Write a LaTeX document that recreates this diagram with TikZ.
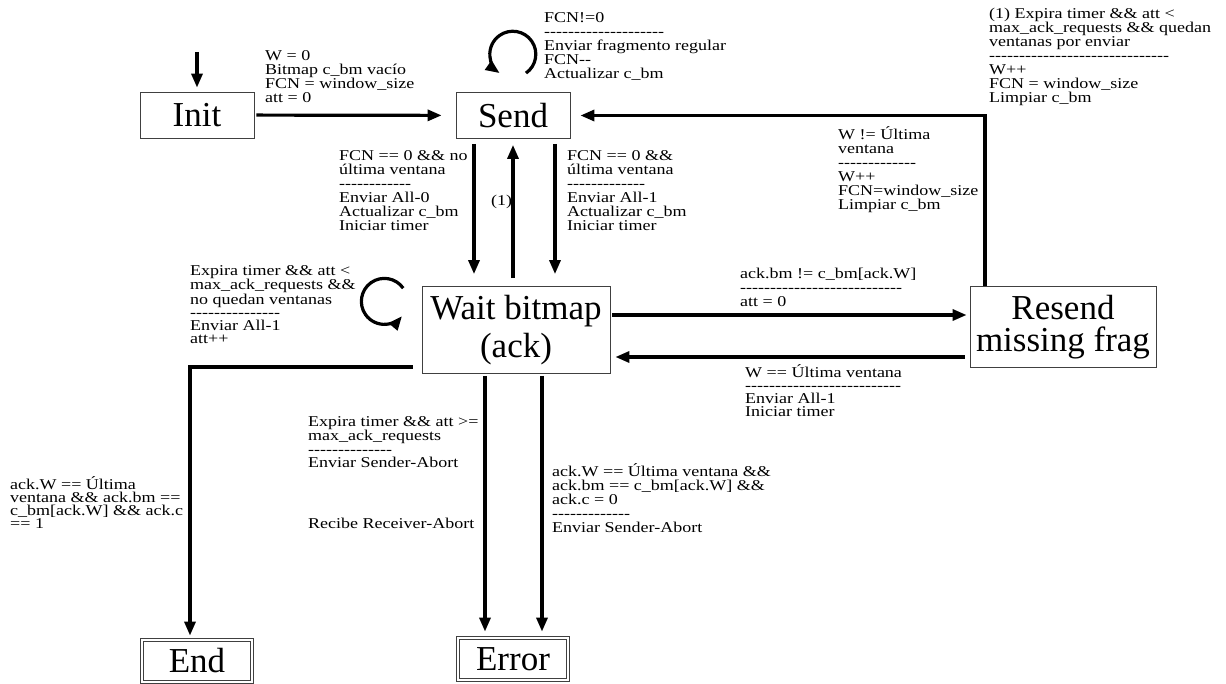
\documentclass[tikz,border=0pt]{standalone}
\usepackage{fontspec}
\usetikzlibrary{arrows.meta,calc}
\newfontfamily\lblfont{Liberation Serif}[FakeStretch=1.2]
\newfontfamily\statefont{Liberation Serif}
\newcommand{\dashrow}[1]{\foreach \k in {1,...,#1}{-}}

\begin{document}
\begin{tikzpicture}[x=1pt, y=1pt,
    state/.style={draw=black!75, line width=0.8pt, rectangle, inner sep=0pt,
      minimum width=114pt, minimum height=46pt, align=center,
      font=\statefont\fontsize{35}{37}\selectfont},
    final/.style={state, minimum width=110pt, minimum height=42pt,
      double, double distance=2.5pt},
    lbl/.style={anchor=north west, inner sep=0pt, align=left,
      font=\lblfont\fontsize{15}{14}\selectfont},
    arr/.style={line width=3.2pt, -{Triangle[length=14pt,width=11pt]},
      shorten >=4pt}]
    \useasboundingbox (0,0) rectangle (1226,-684);

    % states
    \node[state] (init) at (197,-115) {Init};
    \node[state] (send) at (513,-115.5) {Send};
    \node[state, minimum width=188pt, minimum height=87pt,
      font=\statefont\fontsize{35}{38}\selectfont] (wait) at (516,-330) {Wait bitmap\\(ack)};
    \node[state, minimum width=186pt, minimum height=81pt,
      font=\statefont\fontsize{35}{32}\selectfont] (resend) at (1063,-327) {Resend\\missing frag};
    \node[final] (end) at (197,-661) {End};
    \node[final] (error) at (513,-659) {Error};
    \coordinate (start) at (197,-52);

    % transitions
    \draw[arr] (start) -- (init);
    \draw[arr, shorten <=2pt, shorten >=14pt] (init) -- (send);
    \draw[arr, shorten >=0pt] ([shift={(13,19)}]send.north) arc[start angle=-55, end angle=235, radius=23];
    \draw[arr, shorten <=5pt, shorten >=12pt] ([xshift=-39pt]send.south) -- ([xshift=-39pt]send.south |- wait.north);
    \draw[arr, shorten <=8pt, shorten >=6pt] (wait.north -| send.south) -- (send.south);
    \draw[arr, shorten <=5pt, shorten >=12pt] ([xshift=42pt]send.south) -- ([xshift=42pt]send.south |- wait.north);
    \draw[arr, shorten >=0pt] ([shift={(-18.4,41.8)}]wait.west) arc[start angle=35, end angle=320, radius=23];
    \draw[arr, shorten <=2pt, shorten >=3pt] ([yshift=15pt]wait.east) -- ([yshift=15pt]wait.east -| resend.west);
    \draw[arr, shorten <=5pt, shorten >=5pt] ([yshift=-27pt]wait.east -| resend.west) -- ([yshift=-27pt]wait.east);
    \draw[arr, shorten >=10pt] ([xshift=-78pt]resend.north) |- (send.east);
    \draw[arr, shorten <=9pt] ([yshift=-37pt]wait.west) -| ([xshift=-7pt]end.north);
    \draw[arr, shorten <=2pt, shorten >=6pt] ([xshift=-28pt]error.north |- wait.south) -- ([xshift=-28pt]error.north);
    \draw[arr, shorten <=2pt, shorten >=6pt] ([xshift=29pt]error.north |- wait.south) -- ([xshift=29pt]error.north);

    % labels
    \node[lbl] (lblinit) at (265,-50) {W = 0\\Bitmap c\_bm vacío\\FCN = window\_size\\att = 0};
    \node[lbl] (lblsend) at (544,-12) {FCN!=0\\\dashrow{20}\\Enviar fragmento regular\\FCN-{}-\\Actualizar c\_bm};
    \node[lbl] (lblone) at (989,-8) {(1) Expira timer \&\& att <\\max\_ack\_requests \&\& quedan\\ventanas por enviar\\\dashrow{30}\\W++\\FCN = window\_size\\Limpiar c\_bm};
    \node[lbl] (lblnext) at (838,-126) {W != Última\\ventana\\\dashrow{13}\\W++\\FCN=window\_size\\Limpiar c\_bm};
    \node[lbl] (lblall0) at (339,-150) {FCN == 0 \&\& no\\última ventana\\\dashrow{12}\\Enviar All-0\\Actualizar c\_bm\\Iniciar timer};
    \node[lbl] (lblall1) at (567,-150) {FCN == 0 \&\&\\última ventana\\\dashrow{13}\\Enviar All-1\\Actualizar c\_bm\\Iniciar timer};
    \node[lbl] (lblback) at (491,-195) {(1)};
    \node[lbl, font=\lblfont\fontsize{15}{13}\selectfont] (lblretry) at (190,-265) {Expira timer \&\& att <\\max\_ack\_requests \&\&\\no quedan ventanas\\\dashrow{15}\\Enviar All-1\\att++};
    \node[lbl] (lblmiss) at (740,-268) {ack.bm != c\_bm[ack.W]\\\dashrow{27}\\att = 0};
    \node[lbl, font=\lblfont\fontsize{15}{13}\selectfont] (lbllast) at (745,-364) {W == Última ventana\\\dashrow{26}\\Enviar All-1\\Iniciar timer};
    \node[lbl, font=\lblfont\fontsize{15}{13}\selectfont] (lblend) at (10,-476) {ack.W == Última\\ventana \&\& ack.bm ==\\c\_bm[ack.W] \&\& ack.c\\== 1};
    \node[lbl, font=\lblfont\fontsize{15}{13.5}\selectfont] (lblabort) at (308,-416) {Expira timer \&\& att >=\\max\_ack\_requests\\\dashrow{14}\\Enviar Sender-Abort};
    \node[lbl] (lblrecv) at (308,-518) {Recibe Receiver-Abort};
    \node[lbl] (lblfail) at (552,-463) {ack.W == Última ventana \&\&\\ack.bm == c\_bm[ack.W] \&\&\\ack.c = 0\\\dashrow{13}\\Enviar Sender-Abort};
\end{tikzpicture}
\end{document}
